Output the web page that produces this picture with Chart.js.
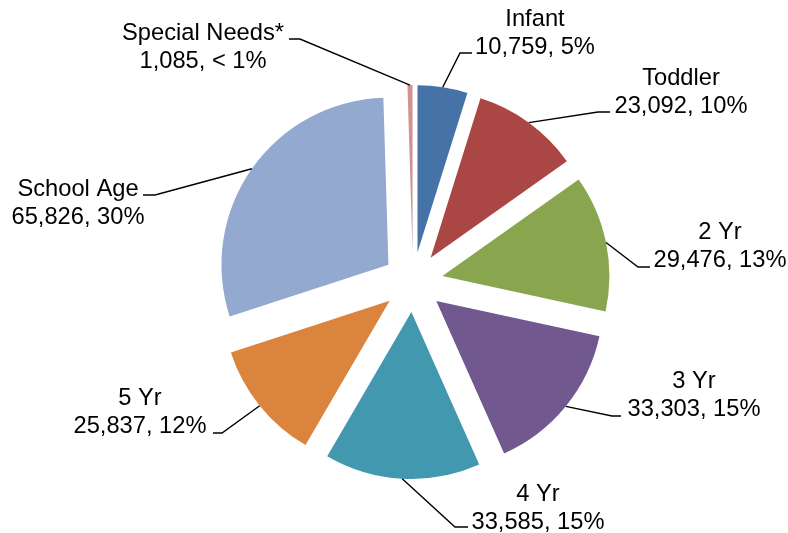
<!DOCTYPE html>
<html>
<head>
<meta charset="utf-8">
<script src="https://cdn.jsdelivr.net/npm/chart.js@4"></script>
<style>
  html, body { margin: 0; padding: 0; background: #fff; }
  canvas { display: block; }
</style>
</head>
<body>
<canvas id="pieChart" width="788" height="533"></canvas>
<script>
// data
const categories = ["Infant", "Toddler", "2 Yr", "3 Yr", "4 Yr", "5 Yr", "School Age", "Special Needs*"];
const children = [10759, 23092, 29476, 33303, 33585, 25837, 65826, 1085];

const colors = ["#4572A7", "#AA4643", "#89A54E", "#71588F", "#4198AF", "#DB843D", "#93A9CF", "#D19392"];

// where each label sits (center x, first baseline) and the leader elbow
const labelPos = [
    {x: 535, y: 26,  ex: 460, ey: 53,  hx: 472},
    {x: 681, y: 85,  ex: 598, ey: 112, hx: 610},
    {x: 720, y: 239, ex: 638, ey: 267, hx: 650},
    {x: 694, y: 388, ex: 612, ey: 416, hx: 621},
    {x: 538, y: 501, ex: 455, ey: 527, hx: 468},
    {x: 140, y: 405, ex: 222, ey: 433, hx: 213},
    {x: 78,  y: 196, ex: 155, ey: 195, hx: 143},
    {x: 203, y: 40,  ex: 300, ey: 39,  hx: 289}
];

const explode = 30;
const total = children.reduce((a, b) => a + b, 0);

function pctText(v) {
    const p = v / total * 100;
    if (p < 1) return "< 1%";
    return Math.round(p) + "%";
}

// pull every slice out from the middle, like excel's exploded pie
const explodePlugin = {
    id: "explodePlugin",
    afterDatasetsUpdate(chart) {
        const meta = chart.getDatasetMeta(0);
        meta.data.forEach(arc => {
            const mid = (arc.startAngle + arc.endAngle) / 2;
            arc.x += Math.cos(mid) * explode;
            arc.y += Math.sin(mid) * explode;
        });
    },
    afterDatasetsDraw(chart) {
        const ctx = chart.ctx;
        const meta = chart.getDatasetMeta(0);
        ctx.save();
        ctx.strokeStyle = "#000";
        ctx.lineWidth = 1.4;
        ctx.fillStyle = "#000";
        ctx.font = "23.7px 'Liberation Sans', Arial, sans-serif";
        ctx.textAlign = "center";
        ctx.textBaseline = "alphabetic";
        meta.data.forEach((arc, i) => {
            const mid = (arc.startAngle + arc.endAngle) / 2;
            const px = arc.x + Math.cos(mid) * arc.outerRadius;
            const py = arc.y + Math.sin(mid) * arc.outerRadius;
            const lp = labelPos[i];
            ctx.beginPath();
            ctx.moveTo(px, py);
            ctx.lineTo(lp.ex, lp.ey);
            ctx.lineTo(lp.hx, lp.ey);
            ctx.stroke();

            ctx.fillText(categories[i], lp.x, lp.y);
            ctx.fillText(children[i].toLocaleString("en-US") + ", " + pctText(children[i]), lp.x, lp.y + 28);
        });
        ctx.restore();
    }
};

const canvas = document.getElementById("pieChart");
new Chart(canvas, {
    type: "pie",
    data: {
        labels: categories,
        datasets: [{
            data: children,
            backgroundColor: colors,
            borderWidth: 0
        }]
    },
    options: {
        responsive: false,
        animation: false,
        events: [],
        radius: 167,
        layout: {
            padding: {left: 38, right: 0, top: 31, bottom: 0}
        },
        plugins: {
            legend: {display: false},
            tooltip: {enabled: false}
        }
    },
    plugins: [explodePlugin]
});
</script>
</body>
</html>
